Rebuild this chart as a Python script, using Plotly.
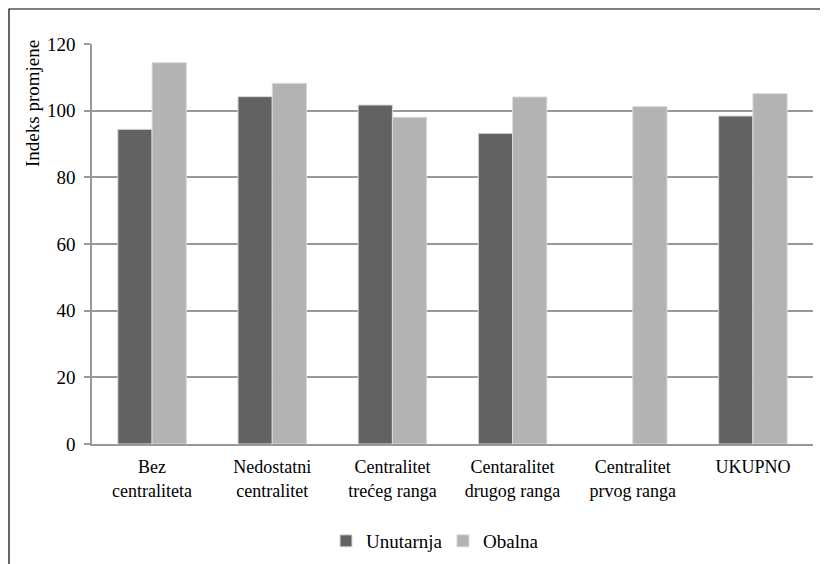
import plotly.graph_objects as go

categories = ["Bez<br>centraliteta", "Nedostatni<br>centralitet", "Centralitet<br>trećeg ranga",
              "Centaralitet<br>drugog ranga", "Centralitet<br>prvog ranga", "UKUPNO"]
unutarnja = [94.4, 104.2, 101.7, 93.2, None, 98.4]
obalna = [114.4, 108.2, 98.0, 104.1, 101.2, 105.1]
y_ticks = [0, 20, 40, 60, 80, 100, 120]

# page has an 8px body margin: figure occupies page x 8..828, y 8..564
OFF = 8
W, H = 828 - OFF, 564 - OFF
L, R, T, B = 92 - OFF, 15, 44 - OFF, 120
pw, ph = W - L - R, H - T - B

def px_x(x):
    return (x - OFF - L) / pw

def px_y(y):
    return (H - B - (y - OFF)) / ph

FAM = "Liberation Serif"
font = dict(family=FAM, size=19, color="#000000")
xfont = dict(family=FAM, size=18, color="#000000")

fig = go.Figure()
fig.add_trace(go.Bar(name="Unutarnja", x=categories, y=unutarnja,
                     marker=dict(color="#626262", line=dict(color="#d9d9d9", width=1))))
fig.add_trace(go.Bar(name="Obalna", x=categories, y=obalna,
                     marker=dict(color="#b3b3b3", line=dict(color="#d9d9d9", width=1))))

fig.update_layout(
    width=W, height=H,
    margin=dict(l=L, r=R, t=T, b=B, autoexpand=False),
    paper_bgcolor="white", plot_bgcolor="white",
    font=font,
    barmode="group", bargap=0.43, bargroupgap=0,
    showlegend=True,
    legend=dict(orientation="h", x=px_x(326), xanchor="left", y=px_y(541), yanchor="middle",
                font=font, itemwidth=30, entrywidth=72, entrywidthmode="pixels",
                traceorder="normal"),
    xaxis=dict(showline=True, linecolor="#999999", linewidth=1.5, ticks="", automargin=False,
               showgrid=False, tickfont=xfont, ticklabelstandoff=6),
    yaxis=dict(range=[0, 120], tickvals=y_ticks, showline=True, linecolor="#999999", linewidth=1.5,
               showgrid=True, gridcolor="#999999", gridwidth=1.5, zeroline=False, automargin=False,
               ticks="outside", ticklen=6, tickcolor="#999999", tickwidth=1.5,
               tickfont=font, ticklabelstandoff=5),
    annotations=[dict(text="Indeks promjene", textangle=-90, xref="paper", yref="paper",
                      x=px_x(33), y=px_y(103), xanchor="center", yanchor="middle",
                      showarrow=False, font=font)],
    shapes=[dict(type="rect", xref="paper", yref="paper",
                 x0=px_x(9), y0=px_y(600), x1=px_x(860), y1=px_y(9),
                 line=dict(color="#000000", width=1.2), layer="above")],
)

fig.write_html("out.html")
